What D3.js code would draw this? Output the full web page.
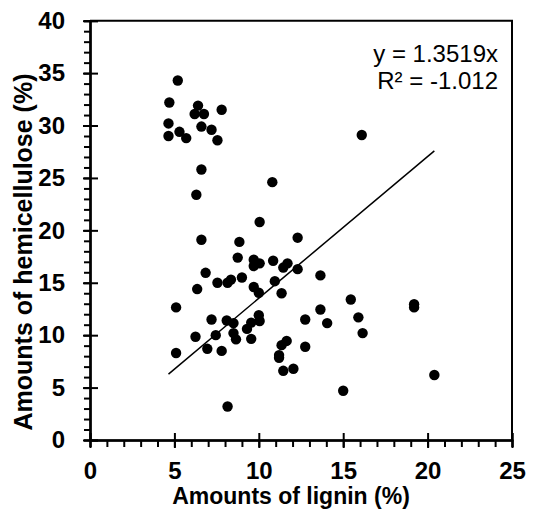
<!DOCTYPE html>
<html lang="en">
<head>
  <meta charset="UTF-8">
  <title>Hemicellulose vs lignin</title>
  <style>
    body { margin: 0; background: #fff; }
    text { font-family: "Liberation Sans", Arial, sans-serif; }
    .tick text { font-weight: bold; font-size: 24px; fill: #000; }
  </style>
</head>
<body>
  <script src="https://d3js.org/d3.v7.min.js"></script>
  <script>

    // lignin (%) on x, hemicellulose (%) on y
    const lignin = [
      5.2, 4.7, 6.4, 6.2, 6.75, 7.8, 4.65, 6.6, 7.2, 4.65, 5.3, 5.7, 7.55, 6.6, 6.3,
      10.8, 16.1, 10.05, 6.6, 8.85, 12.3,
      8.75, 9.7, 9.7, 10.05, 10.85, 11.45, 11.7, 12.3,
      6.85, 7.55, 8.15, 8.35, 9.0, 6.35, 9.7, 10.0, 10.95, 11.35, 13.65, 15.45, 13.65,
      5.1, 7.2, 8.1, 8.5, 10.0, 10.05, 9.55, 9.3, 6.25, 7.45, 8.5, 8.65, 9.55,
      5.1, 6.95, 7.8, 8.15,
      12.75, 14.05, 15.9, 16.15, 11.65, 11.35, 12.75, 11.2, 11.2, 11.45, 12.05, 15.0,
      19.2, 19.2, 20.4
    ];
    const hemicellulose = [
      34.3, 32.2, 31.9, 31.1, 31.1, 31.5, 30.2, 29.9, 29.6, 29.0, 29.4, 28.8, 28.6, 25.8, 23.4,
      24.6, 29.1, 20.8, 19.1, 18.9, 19.3,
      17.4, 17.2, 16.6, 16.85, 17.1, 16.45, 16.85, 16.3,
      15.95, 15.0, 15.0, 15.3, 15.5, 14.4, 14.6, 14.05, 15.15, 14.0, 15.7, 13.4, 12.45,
      12.65, 11.5, 11.4, 11.15, 11.9, 11.35, 11.2, 10.6, 9.85, 10.0, 10.2, 9.6, 9.65,
      8.3, 8.7, 8.5, 3.2,
      11.5, 11.15, 11.7, 10.2, 9.45, 9.05, 8.9, 8.1, 7.85, 6.6, 6.8, 4.7,
      12.95, 12.65, 6.2
    ];
    const slope = 1.3519;
    const eqLines = ['y = 1.3519x', 'R\u00b2 = -1.012'];
    const xTicks = [0, 5, 10, 15, 20, 25];
    const yTicks = [0, 5, 10, 15, 20, 25, 30, 35, 40];

    const width = 533, height = 509;
    const plotL = 90, plotR = 512, plotT = 20.7, plotB = 440;

    const svg = d3.select('body')
      .append('svg')
      .attr('width', width)
      .attr('height', height);

    const x = d3.scaleLinear().domain([0, 25]).range([plotL, plotR]);
    const y = d3.scaleLinear().domain([0, 40]).range([plotB, plotT]);

    const minorX = d3.range(0, 26, 1);
    const minorY = d3.range(0, 41, 1);

    // plot frame: top and right edges
    svg.append('path')
      .attr('d', `M${plotL},${plotT}H${plotR}V${plotB}`)
      .attr('fill', 'none')
      .attr('stroke', '#000')
      .attr('stroke-width', 2);

    // x axis: minor outside, major crossing
    const gx = svg.append('g').attr('transform', `translate(0,${plotB})`);
    gx.append('g')
      .call(d3.axisBottom(x).tickValues(minorX).tickSize(7).tickFormat(''));
    gx.append('g')
      .call(d3.axisBottom(x).tickValues(xTicks).tickSize(8).tickSizeOuter(0).tickPadding(14));
    gx.append('g')
      .call(d3.axisTop(x).tickValues(xTicks).tickSize(7).tickFormat(''));

    // y axis
    const gy = svg.append('g').attr('transform', `translate(${plotL},0)`);
    gy.append('g')
      .call(d3.axisLeft(y).tickValues(minorY).tickSize(6).tickFormat(''));
    gy.append('g')
      .call(d3.axisLeft(y).tickValues(yTicks).tickSize(7).tickSizeOuter(0).tickPadding(18));
    gy.append('g')
      .call(d3.axisRight(y).tickValues(yTicks).tickSize(8).tickFormat(''));

    svg.selectAll('.domain').attr('stroke-width', 2);
    svg.selectAll('.tick line').attr('stroke-width', 2);
    svg.selectAll('.tick text')
      .attr('font-family', '"Liberation Sans", Arial, sans-serif')
      .attr('font-weight', 'bold')
      .attr('font-size', 24);

    // trend line through origin, over the range of the data
    const ext = d3.extent(lignin);
    svg.append('line')
      .attr('x1', x(ext[0])).attr('y1', y(slope * ext[0]))
      .attr('x2', x(ext[1])).attr('y2', y(slope * ext[1]))
      .attr('stroke', '#000')
      .attr('stroke-width', 1.5);

    // points
    svg.append('g')
      .selectAll('circle')
      .data(lignin.map((d, i) => [d, hemicellulose[i]]))
      .join('circle')
      .attr('cx', d => x(d[0]))
      .attr('cy', d => y(d[1]))
      .attr('r', 5.2)
      .attr('fill', '#000');

    // equation
    svg.append('g')
      .selectAll('text')
      .data(eqLines)
      .join('text')
      .attr('x', 498)
      .attr('y', (d, i) => 62 + i * 27)
      .attr('text-anchor', 'end')
      .attr('font-size', 24)
      .text(d => d);

    // axis titles
    svg.append('text')
      .attr('x', (plotL + plotR) / 2 - 10)
      .attr('y', 504)
      .attr('text-anchor', 'middle')
      .attr('font-size', 23)
      .attr('font-weight', 'bold')
      .text('Amounts of lignin (%)');

    svg.append('text')
      .attr('transform', 'translate(32,252) rotate(-90)')
      .attr('text-anchor', 'middle')
      .attr('font-size', 25)
      .attr('font-weight', 'bold')
      .text('Amounts of hemicellulose (%)');

  </script>
</body>
</html>
